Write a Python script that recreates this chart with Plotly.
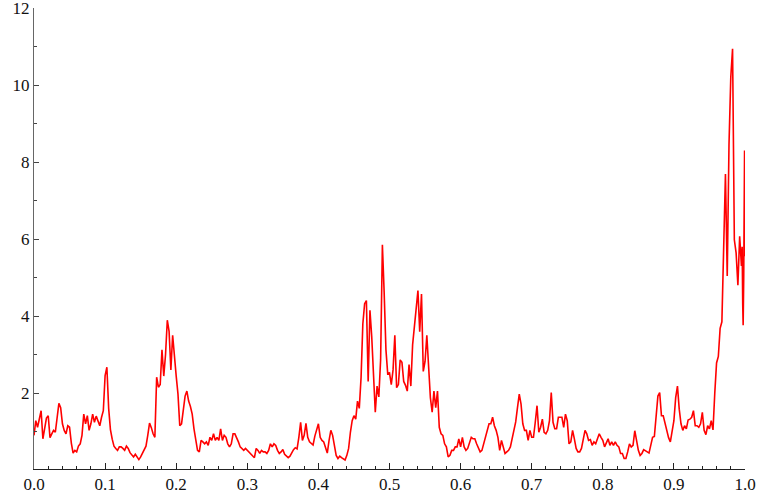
import plotly.graph_objects as go

# sampled series on a regular grid of step 0.0025 starting at x = 0
x_step = 0.0025
y_main = [
    0.90, 1.28, 1.11, 1.30, 1.54, 0.81, 1.11, 1.35, 1.41, 0.84,
    0.94, 1.03, 0.98, 1.45, 1.73, 1.62, 1.20, 1.03, 0.94, 1.15,
    1.11, 0.70, 0.44, 0.51, 0.47, 0.62, 0.68, 0.90, 1.45, 1.20,
    1.41, 1.03, 1.20, 1.45, 1.24, 1.40, 1.25, 1.15, 1.37, 1.54,
    2.45, 2.67, 1.60, 1.05, 0.80, 0.62, 0.56, 0.51, 0.60, 0.60,
    0.56, 0.51, 0.62, 0.56, 0.45, 0.38, 0.34, 0.41, 0.32, 0.27,
    0.34, 0.43, 0.52, 0.62, 0.90, 1.22, 1.10, 0.94, 0.85, 2.41,
    2.15, 2.22, 3.12, 2.44, 3.00, 3.89, 3.60, 2.60, 3.50, 2.90,
    2.44, 1.97, 1.15, 1.20, 1.54, 1.92, 2.05, 1.79, 1.65, 1.45,
    1.07, 0.77, 0.51, 0.47, 0.77, 0.73, 0.68, 0.73, 0.64, 0.85,
    0.77, 0.94, 0.77, 0.85, 0.77, 1.07, 0.77, 0.90, 0.85, 0.68,
    0.60, 0.68, 0.94, 0.94, 0.85, 0.73, 0.60, 0.56, 0.51, 0.56,
    0.51, 0.47, 0.43, 0.38, 0.32, 0.56, 0.51, 0.43, 0.51, 0.47,
    0.47, 0.43, 0.51, 0.68, 0.60, 0.68, 0.64, 0.51, 0.43, 0.47,
    0.53, 0.41, 0.36, 0.32, 0.36, 0.47, 0.53, 0.58, 0.55, 0.85,
    1.24, 0.77, 0.90, 1.21, 0.85, 0.73, 0.68, 0.65, 0.88, 1.07,
    1.20, 0.85, 0.77, 0.73, 0.60, 0.44, 0.77, 1.03, 0.90, 0.64,
    0.38, 0.30, 0.36, 0.32, 0.30, 0.26, 0.38, 0.56, 0.98, 1.28,
    1.41, 1.32, 1.79, 1.60, 2.40, 3.80, 4.32, 4.40, 2.30, 4.15,
    3.46, 2.40, 1.50, 2.18, 1.90, 2.86, 5.85, 4.60, 3.12, 2.50,
    2.52, 2.22, 2.60, 3.50, 2.14, 2.22, 2.86, 2.80, 2.30, 2.20,
    2.05, 2.74, 2.18, 3.25, 3.76, 4.27, 4.66, 3.59, 4.57, 2.56,
    2.82, 3.50, 2.74, 1.88, 1.50, 2.05, 1.62, 2.05, 1.11, 0.94,
    0.90, 0.68, 0.60, 0.34, 0.38, 0.51, 0.51, 0.60, 0.60, 0.81,
    0.60, 0.85, 0.60, 0.51, 0.56, 0.68, 0.85, 0.81, 0.81, 0.68,
    0.56, 0.47, 0.51, 0.68, 0.81, 1.03, 1.20, 1.20, 1.37, 1.15,
    1.03, 0.85, 0.51, 0.77, 0.56, 0.43, 0.47, 0.51, 0.60, 0.83,
    1.00, 1.25, 1.62, 1.97, 1.71, 1.20, 1.03, 1.03, 0.77, 1.03,
    0.85, 0.85, 1.24, 1.67, 0.98, 1.11, 1.32, 0.98, 0.94, 1.03,
    1.28, 2.01, 1.24, 1.07, 1.07, 1.37, 1.37, 1.37, 1.11, 1.45,
    1.28, 0.68, 0.73, 1.03, 0.81, 0.56, 0.47, 0.47, 0.56, 0.77,
    1.03, 0.94, 0.77, 0.79, 0.64, 0.73, 0.68, 0.81, 0.94, 0.85,
    0.77, 0.60, 0.73, 0.81, 0.64, 0.73, 0.64, 0.73, 0.64, 0.60,
    0.43, 0.43, 0.30, 0.30, 0.47, 0.68, 0.60, 0.64, 1.02, 0.77,
    0.51, 0.38, 0.43, 0.53, 0.51, 0.47, 0.44, 0.68, 0.85, 0.87,
    1.41, 1.92, 2.01, 1.41, 1.41, 1.20, 1.03, 0.84, 0.73, 0.96,
    1.28, 1.88, 2.18, 1.58, 1.20, 1.03, 1.15, 1.07, 1.30, 1.32,
    1.37, 1.54, 1.15, 1.15, 1.11, 1.20, 1.50, 1.03, 0.92, 1.15,
    1.07, 1.28, 1.04, 2.00, 2.78, 2.95, 3.68, 3.85, 5.47, 7.69,
    5.04, 8.46, 10.20, 10.94, 5.98, 5.64, 4.80, 6.07,
]

# final, densely sampled stretch near x = 1
x_tail = [0.9950, 0.9960, 0.9968, 0.9974, 0.9982, 0.9988, 0.9994, 0.9998, 1.0000]
y_tail = [5.30, 5.80, 4.30, 3.76, 5.00, 6.20, 8.30, 6.60, 5.55]

x_ticks = [0.0, 0.1, 0.2, 0.3, 0.4, 0.5, 0.6, 0.7, 0.8, 0.9, 1.0]
x_tick_text = ["0.0", "0.1", "0.2", "0.3", "0.4", "0.5", "0.6", "0.7", "0.8", "0.9", "1.0"]
y_ticks = [2, 4, 6, 8, 10, 12]
y_tick_text = ["2", "4", "6", "8", "10", "12"]

x_all = [round(i * x_step, 4) for i in range(len(y_main))] + x_tail
y_all = y_main + y_tail

fig = go.Figure()
fig.add_trace(go.Scatter(
    x=x_all, y=y_all, mode="lines",
    line=dict(color="#ff0000", width=1.6),
    hoverinfo="skip", showlegend=False,
))

font = dict(family="Liberation Serif", size=17, color="#111111")

fig.update_layout(
    width=758, height=502,
    margin=dict(l=34, r=13, t=8, b=33, autoexpand=False),
    paper_bgcolor="white", plot_bgcolor="white",
    font=font,
    showlegend=False,
)
fig.update_xaxes(
    range=[0, 1.0], showgrid=False, zeroline=False, automargin=False,
    showline=True, linecolor="#222222", linewidth=1,
    ticks="inside", ticklen=6, tickcolor="#222222", tickwidth=1,
    tickvals=x_ticks, ticktext=x_tick_text, tickfont=font,
    ticklabeloverflow="allow",
    minor=dict(dtick=0.02, tick0=0, ticks="inside", ticklen=3, tickcolor="#222222", showgrid=False),
)
fig.update_yaxes(
    range=[0.026, 12.0], showgrid=False, zeroline=False, automargin=False,
    showline=True, linecolor="#666666", linewidth=1,
    ticks="inside", ticklen=5, tickcolor="#444444", tickwidth=1,
    tickvals=y_ticks, ticktext=y_tick_text, tickfont=font,
    ticklabeloverflow="allow",
    minor=dict(dtick=1, tick0=0, ticks="inside", ticklen=3, tickcolor="#444444", showgrid=False),
)

fig.write_html(
    "out.html",
    config={"displayModeBar": False},
    post_script="document.body.style.margin='0px';",
)
